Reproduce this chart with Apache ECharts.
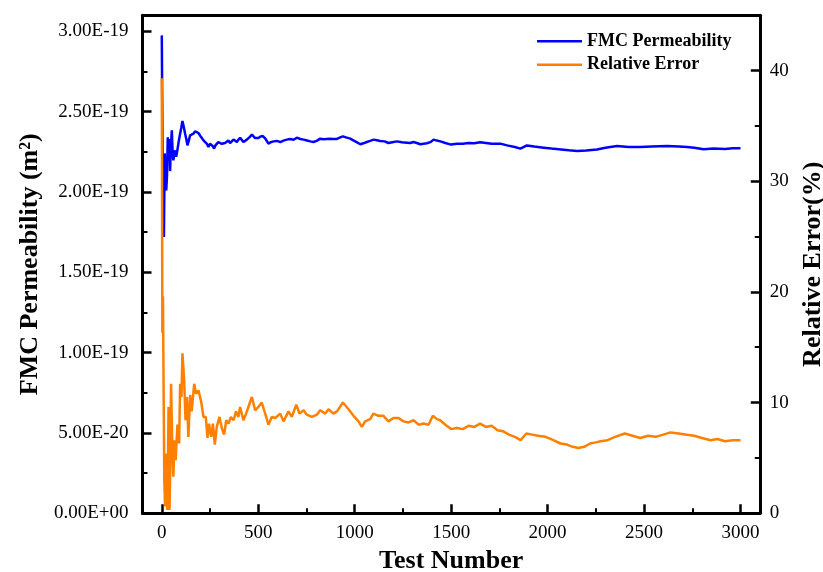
<!DOCTYPE html>
<html><head><meta charset="utf-8">
<script src="https://cdn.jsdelivr.net/npm/echarts@6/dist/echarts.min.js"></script>
<style>html,body{margin:0;padding:0;background:#fff}#c{width:823px;height:572px}</style>
</head><body><div id="c"></div>
<script>
// FMC permeability, values in units of 1E-19 m^2
const permTests = [0,4,8,11,15,19,23,27,31,35,39,43,47,52,56,60,65,69,74,78,82,86,90,95,101,107,113,121,127,133,140,147,155,164,173,182,190,199,207,216,224,233,242,250,259,265,271,278,285,293,302,311,320,328,337,345,354,363,372,380,389,397,406,414,423,432,441,454,467,476,484,492,501,512,524,538,553,566,579,596,614,631,648,666,683,700,718,735,753,770,786,803,821,838,855,873,890,908,925,939,955,977,995,1010,1029,1045,1063,1080,1098,1115,1132,1155,1175,1195,1219,1245,1271,1288,1305,1322,1340,1357,1374,1392,1409,1426,1444,1470,1500,1530,1560,1590,1620,1650,1680,1710,1755,1790,1830,1859,1893,1930,1980,2020,2070,2110,2153,2200,2256,2300,2360,2420,2481,2540,2619,2680,2723,2760,2809,2860,2920,2960,3000];
const permValuesE19 = [2.975,2.24,2.05,1.72,2.24,2.23,2.01,2.10,2.34,2.20,2.33,2.13,2.28,2.384,2.25,2.197,2.24,2.259,2.22,2.24,2.27,2.301,2.33,2.363,2.40,2.442,2.41,2.363,2.33,2.290,2.32,2.353,2.36,2.363,2.378,2.37,2.367,2.35,2.348,2.322,2.31,2.301,2.280,2.30,2.301,2.285,2.270,2.29,2.301,2.31,2.311,2.30,2.290,2.305,2.311,2.32,2.305,2.315,2.326,2.318,2.311,2.325,2.338,2.33,2.311,2.32,2.326,2.34,2.357,2.345,2.336,2.33,2.336,2.345,2.348,2.33,2.301,2.31,2.315,2.318,2.311,2.32,2.326,2.33,2.325,2.338,2.33,2.326,2.32,2.315,2.311,2.318,2.332,2.328,2.33,2.332,2.33,2.330,2.34,2.346,2.34,2.332,2.32,2.31,2.297,2.303,2.311,2.318,2.326,2.322,2.318,2.315,2.305,2.31,2.315,2.31,2.307,2.305,2.311,2.305,2.297,2.30,2.303,2.31,2.326,2.32,2.315,2.305,2.295,2.30,2.30,2.305,2.303,2.31,2.305,2.30,2.301,2.29,2.28,2.27,2.29,2.283,2.276,2.27,2.265,2.26,2.255,2.258,2.265,2.275,2.286,2.28,2.28,2.283,2.286,2.283,2.28,2.275,2.266,2.27,2.268,2.272,2.272];
// Relative error, %
const errTests = [0,3,6,9,13,17,22,29,35,40,44,48,55,60,66,72,81,90,95,102,107,116,123,130,138,147,155,168,178,190,204,216,228,237,245,256,265,275,285,299,311,323,334,346,358,372,385,397,406,423,437,449,467,484,501,518,536,553,570,588,614,631,657,674,697,714,735,752,778,804,821,847,864,890,908,939,968,994,1020,1037,1054,1080,1097,1123,1149,1175,1201,1227,1253,1279,1305,1331,1357,1383,1405,1426,1443,1470,1500,1530,1560,1590,1620,1650,1680,1710,1740,1770,1800,1830,1860,1890,1920,1950,1990,2030,2067,2100,2130,2160,2190,2220,2250,2275,2310,2350,2400,2440,2480,2520,2560,2600,2637,2680,2720,2760,2800,2845,2880,2920,2960,3000];
const errValues = [39.3,16.3,19.6,12.3,3.0,0.6,5.4,0.3,9.6,0.3,4.0,11.7,5.7,3.3,6.6,4.8,8.0,6.3,11.7,10.5,14.45,12.0,8.4,10.5,6.9,10.7,9.2,11.7,10.8,11.1,10.1,8.7,8.7,6.8,8.1,6.9,8.1,6.2,7.8,8.7,7.7,7.1,8.4,8.1,8.7,8.4,9.2,8.7,9.6,8.4,9.0,9.6,10.5,9.3,9.6,10.0,9.0,8.0,8.7,8.6,9.0,8.3,9.2,8.7,9.8,9.0,9.3,8.9,8.7,8.9,9.3,9.0,9.4,9.0,9.2,10.0,9.4,8.8,8.3,7.8,8.3,8.5,9.0,8.8,8.8,8.3,8.6,8.6,8.3,8.2,8.4,8.0,8.1,8.0,8.8,8.5,8.4,8.0,7.6,7.7,7.6,7.9,7.8,8.1,7.8,7.9,7.5,7.4,7.1,6.9,6.6,7.2,7.1,7.0,6.9,6.6,6.3,6.2,6.0,5.9,6.0,6.3,6.4,6.5,6.6,6.9,7.2,7.0,6.8,7.0,6.9,7.1,7.3,7.2,7.1,7.0,6.8,6.6,6.7,6.5,6.6,6.6];
const leftTickLabels = ['0.00E+00','5.00E-20','1.00E-19','1.50E-19','2.00E-19','2.50E-19','3.00E-19'];
const rightTickLabels = ['0','10','20','30','40'];
const xTickLabels = ['0','500','1000','1500','2000','2500','3000'];

const FONT = '"Liberation Serif","Times New Roman",serif';
const chart = echarts.init(document.getElementById('c'), null, {renderer:'canvas'});
const axisLine = {show:true, onZero:false, lineStyle:{color:'#000', width:3}};
const tick = {show:true, inside:true, length:9, lineStyle:{color:'#000', width:2.5}};
const minor = {show:true, splitNumber:2, length:5, lineStyle:{color:'#000', width:2}};
const lbl = {fontFamily:FONT, fontSize:19, color:'#000'};
const nameStyle = {fontFamily:FONT, fontSize:26, fontWeight:'bold', color:'#000'};

chart.setOption({
  animation:false,
  backgroundColor:'#fff',
  grid:{left:142.5, right:63.2, top:15.3, bottom:58.8, containLabel:false, outerBoundsMode:'none'},
  legend:{
    orient:'vertical', left:537, top:32.3, padding:0, icon:'rect', itemWidth:45, itemHeight:2.5, itemGap:5.4,
    textStyle:{fontFamily:FONT, fontSize:18, fontWeight:'bold', color:'#000'},
    data:['FMC Permeability','Relative Error']
  },
  xAxis:[{
    type:'value', position:'bottom', min:-100, max:3100, minInterval:500, maxInterval:500,
    axisLine, axisTick:tick, minorTick:{...minor, length:5}, splitLine:{show:false},
    axisLabel:{...lbl, margin:10, showMinLabel:false, showMaxLabel:false,
      formatter:v => { const i = Math.round(v/500); return (v%500===0 && i>=0 && i<xTickLabels.length) ? xTickLabels[i] : ''; }},
    name:'Test Number', nameLocation:'middle', nameGap:35, nameTextStyle:nameStyle
  },{
    type:'value', position:'top', min:-100, max:3100, axisLine,
    axisTick:{show:false}, axisLabel:{show:false}, splitLine:{show:false}
  }],
  yAxis:[{
    type:'value', position:'left', min:0, max:3.1, interval:0.5,
    axisLine, axisTick:tick, minorTick:minor, splitLine:{show:false},
    axisLabel:{...lbl, margin:14, showMaxLabel:false,
      formatter:v => { const i = Math.round(v/0.5); return (Math.abs(v-i*0.5)<1e-9 && i<leftTickLabels.length) ? leftTickLabels[i] : ''; }},
    name:'FMC Permeability (m²)', nameLocation:'middle', nameRotate:90, nameGap:98, nameTextStyle:nameStyle
  },{
    type:'value', position:'right', min:0, max:45, interval:10,
    axisLine, axisTick:tick, minorTick:minor, splitLine:{show:false},
    axisLabel:{...lbl, margin:10, showMaxLabel:false,
      formatter:v => { const i = Math.round(v/10); return (v%10===0 && i<rightTickLabels.length) ? rightTickLabels[i] : ''; }},
    name:'Relative Error(%)', nameLocation:'middle', nameRotate:90, nameGap:40, nameTextStyle:nameStyle
  }],
  series:[{
    name:'FMC Permeability', type:'line', xAxisIndex:0, yAxisIndex:0,
    data: permTests.map((t,i)=>[t, permValuesE19[i]]),
    symbol:'none', lineStyle:{color:'#0000FF', width:2.5}, itemStyle:{color:'#0000FF'}
  },{
    name:'Relative Error', type:'line', xAxisIndex:0, yAxisIndex:1,
    data: errTests.map((t,i)=>[t, errValues[i]]),
    symbol:'none', lineStyle:{color:'#FF8000', width:2.5}, itemStyle:{color:'#FF8000'}
  }]
});
</script>
</body></html>
